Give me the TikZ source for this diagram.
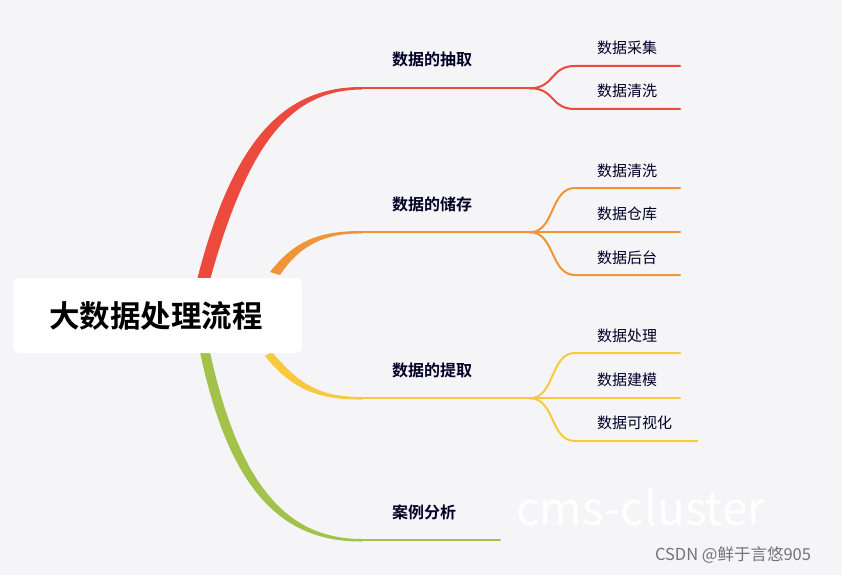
\documentclass[tikz,border=0pt]{standalone}
\usepackage{fontspec}
\setmainfont{Noto Sans CJK SC}
\newfontfamily\cjkb{Noto Sans CJK SC Bold}
\begin{document}
\begin{tikzpicture}[x=1pt,y=-1pt,
  lbl/.style={font=\cjkb\fontsize{16}{18}\selectfont, text=black!85!blue, anchor=base west, inner sep=0},
  sub/.style={font=\fontsize{15}{17}\selectfont, text=black!85!blue, anchor=base west, inner sep=0},
  br/.style={line width=2pt, line cap=round}]
\definecolor{bg}{HTML}{F5F5F8}
\definecolor{cr}{HTML}{EB4A3C}
\definecolor{co}{HTML}{F0943A}
\definecolor{cy}{HTML}{F8C93E}
\definecolor{cg}{HTML}{A3C24A}
\fill[bg] (0,0) rectangle (842,575);
\useasboundingbox (0,0) rectangle (842,575);
% tapered main branches
\fill[cr] (197,280) .. controls (235,130) and (290,87) .. (362,87) -- (362,89.5) .. controls (295,90) and (250,135) .. (210,280) -- cycle;
\fill[co] (270,272) .. controls (295,240) and (320,231) .. (362,231) -- (362,233.5) .. controls (325,233) and (300,245) .. (280,275) -- cycle;
\fill[cy] (272,352) .. controls (300,385) and (320,397) .. (362,397) -- (362,399.5) .. controls (320,400) and (292,390) .. (265,356) -- cycle;
\fill[cg] (210,352) .. controls (240,490) and (290,539) .. (362,539) -- (362,541.5) .. controls (285,542) and (230,495) .. (200,352) -- cycle;
% root
\node[fill=white, rounded corners=6pt, minimum width=289pt, minimum height=75pt, inner sep=0] (root) at (157.5,315.5) {};
\node[font=\cjkb\fontsize{30.5}{33}\selectfont, anchor=west, inner sep=0] (roott) at (49,315.5) {大数据处理流程};
% horizontal lines
\coordinate (r0) at (362,88.3); \coordinate (r1) at (530,88.3);
\coordinate (o0) at (362,232.3); \coordinate (o1) at (530,232.3);
\coordinate (y0) at (362,398.3); \coordinate (y1) at (530,398.3);
\coordinate (g0) at (362,540.3); \coordinate (g1) at (500,540.3);
\draw[br,cr] (r0)--(r1); \draw[br,co] (o0)--(o1); \draw[br,cy] (y0)--(y1); \draw[br,cg] (g0)--(g1);
\node[lbl] (l1) at (392,66) {数据的抽取};
\node[lbl] (l2) at (392,210) {数据的储存};
\node[lbl] (l3) at (392,376) {数据的提取};
\node[lbl] (l4) at (392,518) {案例分析};
% children red
\draw[br,cr] (r1) .. controls (555,88) and (550,66) .. (575,66) -- (680,66);
\draw[br,cr] (r1) .. controls (555,88) and (550,109) .. (575,109) -- (680,109);
\node[sub] at (597,54) {数据采集};
\node[sub] at (597,97) {数据清洗};
% orange
\draw[br,co] (o1) .. controls (555,232) and (550,188) .. (575,188) -- (680,188);
\draw[br,co] (o1) -- (680,232.3);
\draw[br,co] (o1) .. controls (555,232) and (550,275) .. (575,275) -- (680,275);
\node[sub] at (597,176) {数据清洗};
\node[sub] at (597,219) {数据仓库};
\node[sub] at (597,263) {数据后台};
% yellow
\draw[br,cy] (y1) .. controls (555,398) and (550,353) .. (575,353) -- (680,353);
\draw[br,cy] (y1) -- (680,398.3);
\draw[br,cy] (y1) .. controls (555,398) and (550,441) .. (575,441) -- (697,441);
\node[sub] at (597,341) {数据处理};
\node[sub] at (597,385) {数据建模};
\node[sub] at (597,428) {数据可视化};
% watermarks
\node[font=\fontsize{46}{50}\selectfont, text=white, inner sep=0] (wm) at (641,507) {cms-cluster};
\node[font=\fontsize{16.5}{18}\selectfont, text=black!55, inner sep=0] (csdn) at (733,555) {CSDN @鲜于言悠905};
\end{tikzpicture}
\end{document}
